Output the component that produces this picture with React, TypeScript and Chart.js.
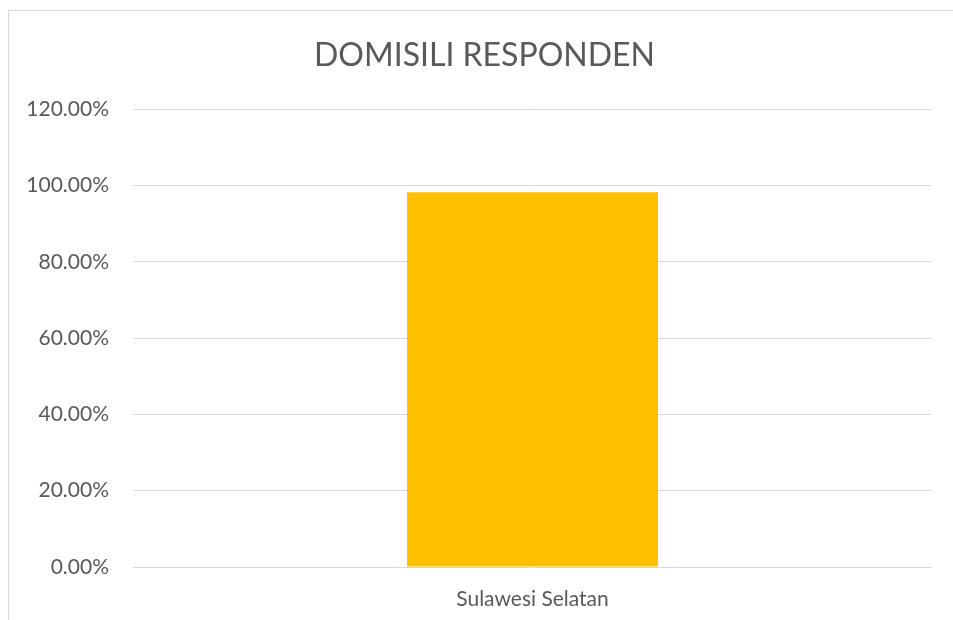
import React, { useEffect, useRef } from "react";
import { Chart, registerables } from "chart.js";

Chart.register(...registerables);

const chartTitle = "DOMISILI RESPONDEN";
const categories = ["Sulawesi Selatan"];
const values = [98.3];
const yTicksMax = 120;
const yTicksStep = 20;

export default function App() {
  const ref = useRef<HTMLCanvasElement | null>(null);
  useEffect(() => {
    if (!ref.current) return;
    const chart = new Chart(ref.current, {
      type: "bar",
      data: {
        labels: categories,
        datasets: [
          {
            data: values,
            backgroundColor: "#FFC000",
            borderWidth: 0,
            categoryPercentage: 1,
            barPercentage: 0.314,
          },
        ],
      },
      options: {
        responsive: false,
        animation: false,
        layout: { padding: { left: 28, right: 28, top: 0, bottom: 0 } },
        plugins: {
          legend: { display: false },
          tooltip: { enabled: false },
          title: {
            display: true,
            text: chartTitle,
            color: "#595959",
            font: { family: "Lato", size: 32, weight: "normal" },
            padding: { top: 25, bottom: 35 },
          },
        },
        scales: {
          x: {
            grid: { display: false, drawTicks: false },
            border: { display: false },
            ticks: {
              color: "#595959",
              font: { family: "Lato", size: 21 },
              padding: 20,
            },
            afterFit: (s: any) => {
              s.height = 54;
            },
          },
          y: {
            min: 0,
            max: yTicksMax,
            grid: { color: "#d9d9d9", lineWidth: 1, drawTicks: false },
            border: { display: false },
            ticks: {
              stepSize: yTicksStep,
              color: "#595959",
              font: { family: "Lato", size: 21 },
              padding: 24,
              callback: (v: any) => Number(v).toFixed(2) + "%",
            },
            afterFit: (s: any) => {
              s.width = 96;
            },
          },
        },
      },
      plugins: [
        {
          id: "unclipYLabels",
          afterLayout: (c: any) => {
            if (c.scales.y) c.scales.y.left = 0;
          },
        },
      ],
    });
    return () => chart.destroy();
  }, []);
  return (
    <div
      style={{
        position: "fixed",
        left: 0,
        top: 0,
        width: 953,
        height: 620,
        overflow: "hidden",
        background: "#fff",
      }}
    >
      <div
        style={{
          position: "absolute",
          left: 8,
          top: 10,
          width: 951,
          height: 640,
          border: "1px solid #d9d9d9",
          background: "#fff",
        }}
      >
        <canvas ref={ref} width={951} height={610} style={{ display: "block" }} />
      </div>
    </div>
  );
}
